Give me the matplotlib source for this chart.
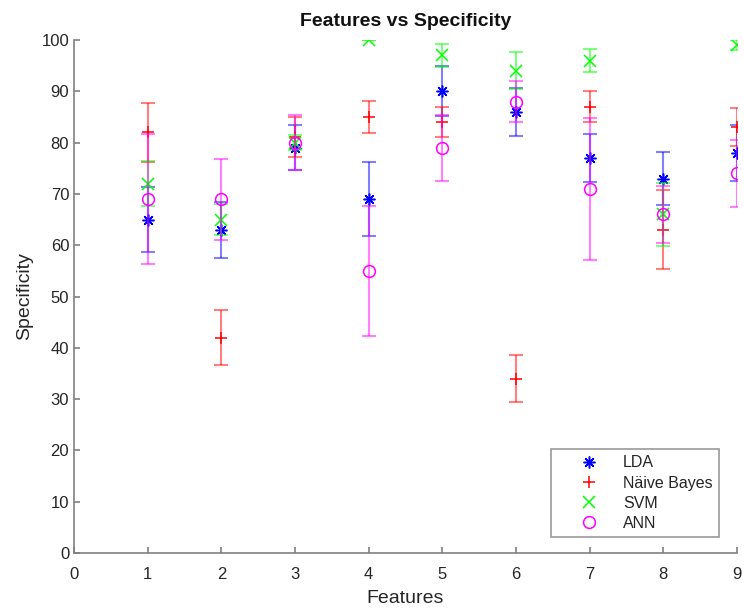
import numpy as np
import matplotlib
matplotlib.use('Agg')
import matplotlib.pyplot as plt

plt.rcParams['font.family'] = ['Liberation Sans', 'DejaVu Sans']

features = [1, 2, 3, 4, 5, 6, 7, 8, 9]

lda = [65, 63, 79, 69, 90, 86, 77, 73, 78]
lda_err = [6.3, 5.5, 4.4, 7.3, 4.9, 4.7, 4.6, 5.1, 5.4]
nb = [82, 42, 81, 85, 84, 34, 87, 63, 83]
nb_err = [5.8, 5.3, 3.9, 3.2, 3.0, 4.6, 3.0, 7.7, 3.7]
svm = [72, 65, 80, 100, 97, 94, 96, 66, 99]
svm_err = [4.4, 3.0, 1.5, 0, 2.2, 3.6, 2.3, 6.2, 1.0]
ann = [69, 69, 80, 55, 79, 88, 71, 66, 74]
ann_err = [12.6, 7.9, 5.4, 12.6, 6.4, 4.0, 13.8, 5.6, 6.6]

series = [
	('LDA', lda, lda_err, '#0000ff', (8, 2, 0)),
	('Näive Bayes', nb, nb_err, '#ff0000', '+'),
	('SVM', svm, svm_err, '#00ff00', 'x'),
	('ANN', ann, ann_err, '#ff00ff', 'o'),
]

fig = plt.figure(figsize=(7.44, 6.10), dpi=100)
ax = fig.add_axes([0.0995, 0.0934, 0.891, 0.841])

gray = '#262626'
handles = []
for name, vals, err, col, mk in series:
	ax.errorbar(features, vals, yerr=err, fmt='none', ecolor=col, alpha=0.5,
				elinewidth=1.5, capsize=5, capthick=1.5)
	h, = ax.plot(features, vals, linestyle='none', marker=mk, markersize=8.5,
				 color=col, markerfacecolor='none', markeredgecolor=col,
				 markeredgewidth=1.1, label=name)
	handles.append(h)

ax.set_xlim(0, 9)
ax.set_ylim(0, 100)
ax.set_xticks(range(0, 10))
ax.set_yticks(range(0, 101, 10))

for s in ['top', 'right']:
	ax.spines[s].set_visible(False)
for s in ['left', 'bottom']:
	ax.spines[s].set_color('#808080')
	ax.spines[s].set_linewidth(1.2)
ax.tick_params(direction='in', length=4, width=1.2, color='#808080',
			   labelcolor=gray, labelsize=12)
ax.tick_params(axis='x', pad=10)

ax.set_title('Features vs Specificity', fontsize=14, fontweight='bold', color='#111111', pad=10)
ax.set_xlabel('Features', fontsize=14, color=gray, labelpad=6)
ax.set_ylabel('Specificity', fontsize=14, color=gray, labelpad=6)

leg = ax.legend(handles=handles, loc='lower right', bbox_to_anchor=(0.973, 0.031),
				fontsize=11.5, frameon=True, fancybox=False, edgecolor='#808080',
				borderpad=0.4, labelspacing=0.32, handlelength=4.0, handletextpad=0.1,
				borderaxespad=0.0)
leg.get_frame().set_linewidth(1.2)
for t in leg.get_texts():
	t.set_color(gray)

fig.savefig('out.png', dpi=100)
